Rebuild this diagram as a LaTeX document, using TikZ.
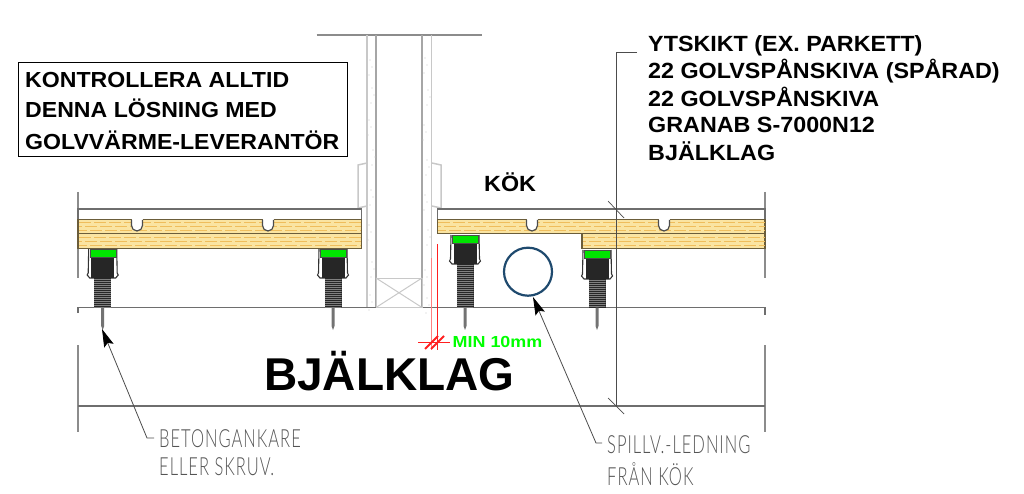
\documentclass[tikz,border=0pt]{standalone}
\usepackage{fontspec}
\setmainfont{Liberation Sans}
\newfontfamily\widebold[UprightFont={* Bold},FakeStretch=1.06]{Liberation Sans}
\newfontfamily\minbold[UprightFont={* Bold},FakeStretch=1.12]{Liberation Sans}
\newfontfamily\thinfont[FakeStretch=0.66,LetterSpace=4]{Lato Light}
\usetikzlibrary{arrows.meta}
\definecolor{woodfill}{HTML}{FAE4A2}
\definecolor{wooddash}{HTML}{EFBD5C}
\definecolor{woodline}{HTML}{6B5D3A}
\definecolor{linegray}{HTML}{6E6E6E}
\definecolor{wallgray}{HTML}{C8C8C8}
\definecolor{pipeblue}{HTML}{1F4A6E}
\definecolor{notegray}{HTML}{555555}
\definecolor{minred}{HTML}{FF2020}
\definecolor{minpink}{HTML}{FF8080}
\tikzset{
  slab/.style={draw=linegray,line width=1.2pt},
  slabend/.style={draw=black!45,line width=1.5pt},
  wall/.style={draw=wallgray,line width=1.5pt},
  board/.style={fill=woodfill,draw=woodline,line width=1.1pt},
  leader/.style={draw=black!70,line width=0.8pt},
  boldtext/.style={font=\widebold\fontsize{22}{22}\selectfont,anchor=base west,inner sep=0pt},
  notetext/.style={font=\thinfont\fontsize{25}{25}\selectfont,text=notegray,anchor=base west,inner sep=0pt},
  leadertip/.style={-{Stealth[length=18pt,width=10pt,inset=3pt,black]}},
}
% one levelling foot: x position, top of the green pad
\newcommand{\levelfoot}[2]{
  \draw[black!80,line width=1.1pt] (#1-14,#2) -- (#1-14.5,#2+24) -- (#1-15.5,#2+26) -- (#1-13,#2+29) -- (#1+13,#2+29) -- (#1+15.5,#2+26) -- (#1+14.5,#2+24) -- (#1+14,#2);
  \fill[black!85] (#1-11.5,#2+8) rectangle (#1+11.5,#2+29);
  \fill[black!85] (#1-8.5,#2+29) rectangle (#1+8.5,307.5);
  \begin{scope}
    \clip (#1-8.5,#2+29) rectangle (#1+8.5,307);
    \foreach \yy in {0,2,...,44}
      \draw[black!50,line width=0.4pt] (#1-8.5,#2+30+\yy) -- (#1+8.5,#2+30+\yy);
  \end{scope}
  \fill[green!90!black,draw=black!70,line width=0.4pt] (#1-13,#2) rectangle (#1+13,#2+8);
  \fill[black!55] (#1-1.5,307.5) -- (#1-1.5,326) -- (#1,330) -- (#1+1.5,326) -- (#1+1.5,307.5) -- cycle;
}
% wood hatch between two levels
\newcommand{\woodhatch}[4]{
  \begin{scope}
    \clip (#1,#3) rectangle (#2,#4);
    \foreach \yy/\ph in {3/0,7/9,11/4}
      \draw[wooddash,line width=1pt,dash pattern=on 12pt off 3pt,dash phase=\ph pt] (#1,#3+\yy) -- (#2,#3+\yy);
  \end{scope}
}
\begin{document}
\begin{tikzpicture}[x=1pt,y=-1pt]
  \useasboundingbox (0,0) rectangle (1024,494);

  % concrete slab
  \draw[slabend] (78,192) -- (78,278);
  \draw[slabend] (78,345) -- (78,432);
  \draw[slabend] (765,192) -- (765,278);
  \draw[slabend] (765,345) -- (765,432);
  \draw[slab] (78,313) -- (78,307.5) -- (765,307.5) -- (765,315);
  \draw[slab] (78,406) -- (765,406);

  % wall
  \draw[draw=black!45,line width=1.5pt] (316.5,35) -- (482,35);
  \draw[wall] (367,35) -- (367,307);
  \draw[wall] (431.5,35) -- (431.5,258);
  \foreach \xx in {376,422}
    \draw[wall,draw=black!35] (\xx,35) -- (\xx,307);
  \foreach \px/\py in {370/60,372/88,369/120,373/150,371/190,369/225,372/262,370/295,425/58,428/90,424/125,427/160,425/195,428/230,425/270,427/298}
    \fill[wallgray] (\px,\py) circle (0.7) (\px+2,\py+7) circle (0.6) (\px-1,\py+15) circle (0.6);
  \draw[wall,line width=1pt] (376,278) rectangle (422,307.5);
  \draw[wall,line width=1pt] (376,278) -- (422,307.5) (376,307.5) -- (422,278);
  \draw[wall] (367,163) -- (358,165) -- (358,208);
  \draw[wall] (358,208) -- (367,206);
  \draw[wall] (432,163) -- (441,165) -- (441,208);
  \draw[wall] (441,208) -- (432,206);

  % left floor
  \draw[slab] (78,219.5) -- (78,209) -- (361.5,209) -- (361.5,219.5);
  \draw[board] (78,219.5) rectangle (361.5,233.7);
  \draw[board] (78,233.7) rectangle (361.5,248.7);
  \woodhatch{79}{361}{220}{233.5}
  \woodhatch{79}{361}{234}{248.5}

  % right floor
  \draw[slab] (437.5,219.5) -- (437.5,209) -- (765,209) -- (765,219.5);
  \draw[board] (437.5,219.5) rectangle (765,233.5);
  \draw[board] (582,233.5) rectangle (765,248.7);
  \woodhatch{438}{765}{220}{233.5}
  \woodhatch{583}{765}{234}{248.5}

  % notches for the heating pipes
  \foreach \xx in {137,268,532,664}{
    \fill[white] (\xx-5.5,219) rectangle (\xx+5.5,226);
    \draw[fill=white,draw=black!70,line width=1.2pt] (\xx-5.5,220) -- (\xx-5.5,225.5) arc[start angle=180,end angle=360,x radius=5.5,y radius=-5.5] -- (\xx+5.5,220);
  }

  % feet
  \levelfoot{102.7}{249}
  \levelfoot{333}{249}
  \levelfoot{465}{235}
  \levelfoot{597}{250}

  % pipe
  \node[circle,draw=pipeblue,line width=2.2pt,minimum size=48pt,inner sep=0pt] (pipe) at (528,271.7) {};

  % height dimension
  \coordinate (dimtop) at (616,52);
  \coordinate (dimend) at (637,52);
  \coordinate (dimbot) at (616,406);
  \draw[leader] (dimend) -- (dimtop) -- (dimbot);
  \draw[leader,line width=0.7pt] (608,201) -- (624,218);
  \draw[leader,line width=0.7pt] (608,398) -- (624,414);

  % red min distance
  \fill[minpink] (430.8,258) rectangle (432.2,350);
  \fill[minred] (437.2,244) rectangle (438.2,350);
  \draw[draw=minred,line width=0.8pt] (418,342) -- (450,342);
  \draw[draw=minred,line width=1.8pt] (425,349) -- (438,336);
  \draw[draw=minred,line width=1.8pt] (431,349) -- (444,336);
  \node[boldtext,text={rgb,255:red,0;green,255;blue,0},font=\minbold\fontsize{16}{16}\selectfont] (mintxt) at (452.5,347.5) {MIN 10mm};

  % leaders
  \coordinate (anchorbend) at (147,438);
  \coordinate (anchorend) at (154,438);
  \coordinate (anchortip) at (102,329);
  \coordinate (pipebend) at (596,443);
  \coordinate (pipeend) at (602,443);
  \draw[leader,leadertip] (anchorend) -- (anchorbend) -- (anchortip);
  \draw[leader,leadertip] (pipeend) -- (pipebend) -- (533,297);

  % texts
  \node[draw=black,line width=1pt,minimum width=329pt,minimum height=94pt,inner sep=0pt] (notebox) at (182.5,110) {};
  \node[boldtext,font=\widebold\fontsize{21.8}{22}\selectfont] (boxa) at (25,88) {KONTROLLERA ALLTID};
  \node[boldtext,font=\widebold\fontsize{21.8}{22}\selectfont] (boxb) at (25,118) {DENNA LÖSNING MED};
  \node[boldtext,font=\widebold\fontsize{21.8}{22}\selectfont] (boxc) at (25,150) {GOLVVÄRME-LEVERANTÖR};
  \node[boldtext] (laya) at (648,52) {YTSKIKT (EX. PARKETT)};
  \node[boldtext] (layb) at (648,79) {22 GOLVSPÅNSKIVA (SPÅRAD)};
  \node[boldtext] (layc) at (648,106.5) {22 GOLVSPÅNSKIVA};
  \node[boldtext] (layd) at (648,133) {GRANAB S-7000N12};
  \node[boldtext] (laye) at (648,161) {BJÄLKLAG};
  \node[boldtext] (kok) at (484,192) {KÖK};
  \node[boldtext,font=\bfseries\fontsize{46}{46}\selectfont] (slabtxt) at (264,390) {BJÄLKLAG};
  \node[notetext] (ankara) at (159,447) {BETONGANKARE};
  \node[notetext] (ankarb) at (159,475) {ELLER SKRUV.};
  \node[notetext] (spilla) at (607,453) {SPILLV.-LEDNING};
  \node[notetext] (spillb) at (607,485) {FRÅN KÖK};
\end{tikzpicture}
\end{document}
